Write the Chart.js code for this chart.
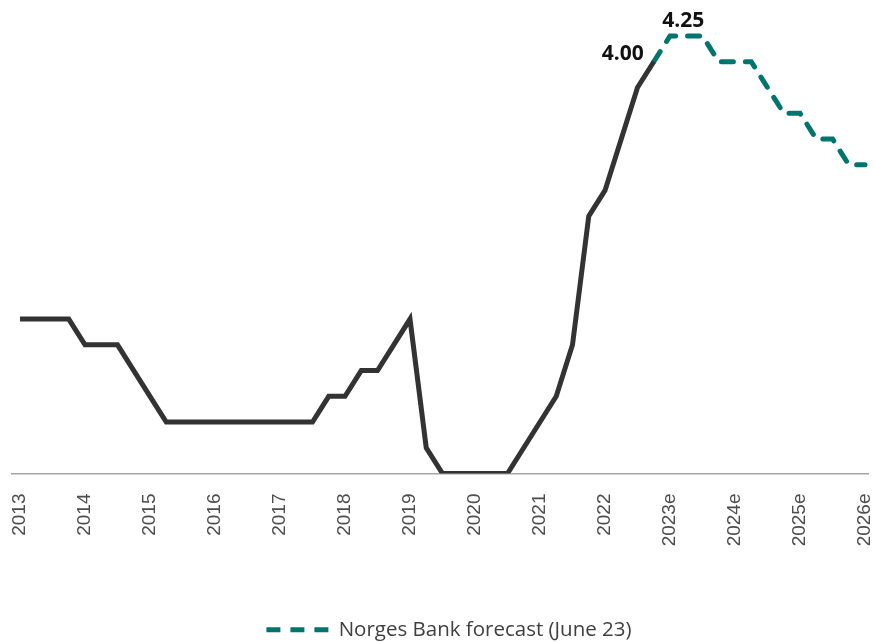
<!DOCTYPE html>
<html>
<head>
<meta charset="utf-8">
<script src="https://cdn.jsdelivr.net/npm/chart.js@4.4.0/dist/chart.umd.min.js"></script>
<style>
  html, body { margin: 0; padding: 0; background: #fff; overflow: hidden; }
  #wrap { position: relative; width: 875px; height: 650px; }
</style>
</head>
<body>
<div id="wrap"><canvas id="myChart"></canvas></div>
<script>
// policy rate, quarterly (decimal year)
const actualDates = [
  2013.0, 2013.25, 2013.5, 2013.75, 2014.0, 2014.25, 2014.5, 2014.75,
  2015.0, 2015.25, 2015.5, 2015.75, 2016.0, 2016.25, 2016.5, 2016.75,
  2017.0, 2017.25, 2017.5, 2017.75, 2018.0, 2018.25, 2018.5, 2018.75,
  2019.0, 2019.25, 2019.5, 2019.75, 2020.0, 2020.25, 2020.5, 2020.75,
  2021.0, 2021.25, 2021.5, 2021.75, 2022.0, 2022.25, 2022.5, 2022.75
];
const actualRate = [
  1.5, 1.5, 1.5, 1.5, 1.25, 1.25, 1.25, 1.0,
  0.75, 0.5, 0.5, 0.5, 0.5, 0.5, 0.5, 0.5,
  0.5, 0.5, 0.5, 0.75, 0.75, 1.0, 1.0, 1.25,
  1.5, 0.25, 0, 0, 0, 0, 0, 0.25,
  0.5, 0.75, 1.25, 2.5, 2.75, 3.25, 3.75, 4.0
];
const forecastDates = [
  2022.75, 2023.0, 2023.25, 2023.5, 2023.75, 2024.0, 2024.25,
  2024.5, 2024.75, 2025.0, 2025.25, 2025.5, 2025.75, 2026.0
];
const forecastRate = [
  4.0, 4.25, 4.25, 4.25, 4.0, 4.0, 4.0,
  3.75, 3.5, 3.5, 3.25, 3.25, 3.0, 3.0
];
const tickLabels = [
  '2013', '2014', '2015', '2016', '2017', '2018', '2019',
  '2020', '2021', '2022', '2023e', '2024e', '2025e', '2026e'
];
const labelDates = [2022.75, 2023.25];
const labelRates = [4.0, 4.25];

const teal = '#00756f';

const valueLabels = {
  id: 'valueLabels',
  afterDatasetsDraw(chart) {
    const { ctx, scales: { x, y } } = chart;
    ctx.save();
    ctx.font = 'bold 21px "Open Sans"';
    ctx.fillStyle = '#111';
    ctx.textBaseline = 'middle';
    labelDates.forEach((d, i) => {
      const px = x.getPixelForValue(d);
      const py = y.getPixelForValue(labelRates[i]);
      const txt = labelRates[i].toFixed(2);
      if (i === 0) {
        ctx.textAlign = 'right';
        ctx.fillText(txt, px - 10, py - 8);
      } else {
        ctx.textAlign = 'center';
        ctx.fillText(txt, px - 3, py - 15);
      }
    });
    ctx.restore();
  }
};

const ctx = document.getElementById('myChart');
new Chart(ctx, {
  type: 'line',
  data: {
    datasets: [
      {
        label: 'Policy rate',
        data: actualDates.map((d, i) => ({ x: d, y: actualRate[i] })),
        borderColor: '#333333',
        backgroundColor: '#333333',
        borderWidth: 5,
        pointRadius: 0,
        tension: 0,
      },
      {
        label: 'Norges Bank forecast (June 23)',
        data: forecastDates.map((d, i) => ({ x: d, y: forecastRate[i] })),
        borderColor: teal,
        backgroundColor: teal,
        borderWidth: 5,
        borderDash: [12, 12],
        borderCapStyle: 'round',
        pointRadius: 0,
        tension: 0,
      },
    ],
  },
  options: {
    responsive: true,
    maintainAspectRatio: false,
    animation: false,
    layout: { padding: { left: 12, right: 7, top: 0, bottom: 0 } },
    scales: {
      x: {
        type: 'linear',
        min: 2012.877,
        max: 2026.046,
        grid: { display: false, drawTicks: false },
        border: { display: true, color: '#a6a6a6', width: 1.5 },
        ticks: {
          stepSize: 1,
          includeBounds: false,
          autoSkip: false,
          minRotation: 90,
          maxRotation: 90,
          padding: 20,
          color: '#4d4d4d',
          font: { family: '"Liberation Sans", Arial, sans-serif', size: 19 },
          callback: function (value) {
            return tickLabels[Math.round(value) - 2013];
          },
        },
        afterFit: function (scale) {
          scale.height = 146;
          scale.paddingLeft = 0;
          scale.paddingRight = 0;
        },
      },
      y: {
        display: false,
        min: 0,
        max: 4.6,
      },
    },
    plugins: {
      tooltip: { enabled: false },
      legend: {
        position: 'bottom',
        labels: {
          filter: (item) => item.datasetIndex === 1,
          usePointStyle: true,
          pointStyle: 'line',
          pointStyleWidth: 80,
          padding: 0,
          color: '#404040',
          font: { family: '"Open Sans", sans-serif', size: 20.5 },
          generateLabels: function (chart) {
            const items = Chart.defaults.plugins.legend.labels.generateLabels(chart);
            items.forEach((it) => {
              it.lineDash = [14, 10, 14, 10, 14, 28];
              it.lineDashOffset = 72;
            });
            return items;
          },
        },
      },
    },
  },
  plugins: [valueLabels],
});
</script>
</body>
</html>
